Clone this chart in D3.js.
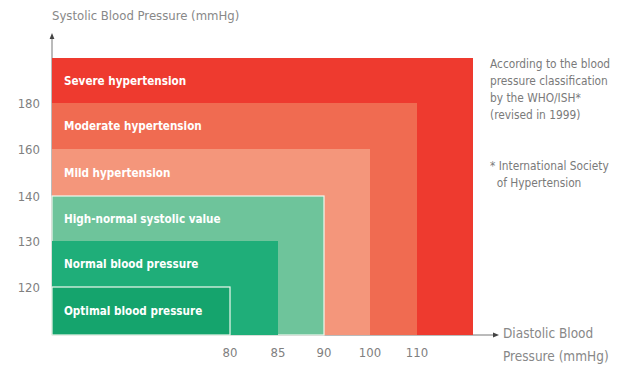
<!DOCTYPE html>
<html>
<head>
<meta charset="utf-8">
<script src="https://cdn.jsdelivr.net/npm/d3@7"></script>
<style>
  html, body { margin: 0; padding: 0; background: #fff; }
  svg { display: block; }
  text { font-family: "Liberation Sans Narrow", "DejaVu Sans Condensed", "Roboto", sans-serif; }
</style>
</head>
<body>
<svg id="chart" width="625" height="368"></svg>
<script>
// Blood pressure classes (WHO/ISH 1999): upper diastolic and systolic bounds
const categories = ["Severe hypertension", "Moderate hypertension", "Mild hypertension",
                    "High-normal systolic value", "Normal blood pressure", "Optimal blood pressure"];
const diastolicUpper = [120, 110, 100, 90, 85, 80];
const systolicUpper  = [200, 180, 160, 140, 130, 120];
const colors = ["#ee3a2f", "#f06b51", "#f4967b", "#6ec49b", "#1fae79", "#15a46d"];
const outlined = [false, false, false, true, false, true];

const diastolicTicks = [80, 85, 90, 100, 110];
const systolicTicks = [120, 130, 140, 160, 180];
const noteLines = ["According to the blood", "pressure classification", "by the WHO/ISH*", "(revised in 1999)"];
const footLines = ["* International Society", "  of Hypertension"];

const svg = d3.select("#chart");

// Class boundaries are evenly spaced, so both axes are piecewise-linear
const x = d3.scaleLinear()
  .domain([60, 80, 85, 90, 100, 110, 120])
  .range([52, 230, 278, 324, 370, 417, 473]);
const y = d3.scaleLinear()
  .domain([90, 120, 130, 140, 160, 180, 200])
  .range([335, 287, 241, 196, 149, 103, 58]);

const data = categories.map((c, i) => ({
  name: c, d: diastolicUpper[i], s: systolicUpper[i], color: colors[i], outline: outlined[i]
}));

// axis lines with arrowheads
svg.append("defs").append("marker")
  .attr("id", "arrow").attr("viewBox", "0 0 10 10").attr("refX", 5).attr("refY", 5)
  .attr("markerWidth", 6).attr("markerHeight", 6).attr("orient", "auto-start-reverse")
  .append("path").attr("d", "M0,1 L10,5 L0,9 Z").attr("fill", "#444");

svg.append("line")
  .attr("x1", x(60)).attr("x2", x(60)).attr("y1", y(90)).attr("y2", 36)
  .attr("stroke", "#777").attr("stroke-width", 1).attr("marker-end", "url(#arrow)");
svg.append("line")
  .attr("x1", x(60)).attr("x2", 496).attr("y1", y(90)).attr("y2", y(90))
  .attr("stroke", "#777").attr("stroke-width", 1).attr("marker-end", "url(#arrow)");

// nested class rectangles, largest first
svg.selectAll("rect.cls").data(data).join("rect")
  .attr("class", "cls")
  .attr("x", x(60))
  .attr("y", d => y(d.s))
  .attr("width", d => x(d.d) - x(60))
  .attr("height", d => y(90) - y(d.s))
  .attr("fill", d => d.color)
  .attr("stroke", d => d.outline ? "#eef8ee" : "none")
  .attr("stroke-width", 1.2);

// class labels, centred in each visible band
svg.selectAll("text.cls").data(data).join("text")
  .attr("class", "cls")
  .attr("x", 64)
  .attr("y", (d, i) => {
    const lower = i < data.length - 1 ? data[i + 1].s : 90;
    return (y(d.s) + y(lower)) / 2;
  })
  .attr("dy", "0.35em")
  .attr("fill", "#fff")
  .attr("font-weight", "bold")
  .attr("font-size", 11.6)
  .text(d => d.name);

// tick labels
svg.append("g").selectAll("text").data(systolicTicks).join("text")
  .attr("x", 40).attr("y", d => y(d)).attr("dy", "0.35em")
  .attr("text-anchor", "end").attr("fill", "#808080").attr("font-size", 13)
  .text(d => d);
svg.append("g").selectAll("text").data(diastolicTicks).join("text")
  .attr("x", d => x(d)).attr("y", 357)
  .attr("text-anchor", "middle").attr("fill", "#808080").attr("font-size", 13)
  .text(d => d);

// axis titles
svg.append("text").attr("x", 52).attr("y", 20)
  .attr("fill", "#888").attr("font-size", 13)
  .text("Systolic Blood Pressure (mmHg)");
svg.append("text").attr("x", 503).attr("y", 338)
  .attr("fill", "#888").attr("font-size", 13.5)
  .text("Diastolic Blood");
svg.append("text").attr("x", 503).attr("y", 361)
  .attr("fill", "#888").attr("font-size", 13.5)
  .text("Pressure (mmHg)");

// classification note
svg.append("g").selectAll("text").data(noteLines).join("text")
  .attr("x", 490).attr("y", (d, i) => 68 + i * 17)
  .attr("fill", "#7a7a7a").attr("font-size", 11.8)
  .text(d => d);
svg.append("g").selectAll("text").data(footLines).join("text")
  .attr("x", 490).attr("y", (d, i) => 170 + i * 17)
  .attr("fill", "#7a7a7a").attr("font-size", 11.8)
  .attr("xml:space", "preserve").style("white-space", "pre")
  .text(d => d);
</script>
</body>
</html>
